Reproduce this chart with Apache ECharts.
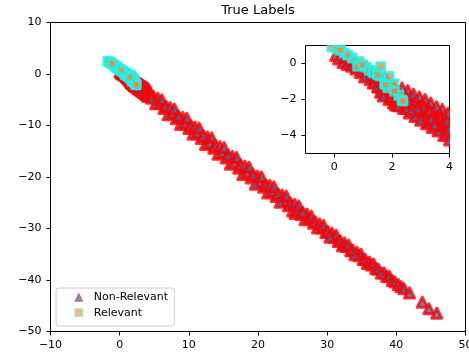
<!DOCTYPE html>
<html>
<head>
<meta charset="utf-8">
<script src="https://cdn.jsdelivr.net/npm/echarts/dist/echarts.min.js"></script>
<style>
  html, body { margin: 0; padding: 0; background: #fff; }
  #main { width: 469px; height: 358px; }
</style>
</head>
<body>
<div id="main"></div>
<script>
// ---------------- data ----------------
var nonRelevant = [
  // dense part near the origin (visible in the inset)
  [0.05,0.45],[0.15,0.25],[0.3,0.05],[0.35,0.35],[0.45,-0.05],[0.55,0.15],[0.6,-0.15],[0.7,0.0],
  [0.75,-0.3],[0.85,-0.15],[0.9,-0.5],[1.0,-0.35],[1.05,-0.75],[1.1,-0.2],[1.15,-0.6],[1.25,-0.9],
  [1.3,-0.5],[1.35,-1.1],[1.45,-0.8],[1.5,-1.3],[1.55,-0.6],[1.6,-1.6],[1.65,-1.0],[1.7,-1.8],
  [1.75,-1.4],[1.8,-0.9],[1.85,-1.7],[1.9,-2.0],[1.95,-1.2],[2.0,-1.6],[2.05,-2.2],[2.1,-1.4],
  [2.15,-1.9],[2.2,-2.35],[2.25,-1.6],[2.3,-2.1],[2.35,-1.35],[2.4,-2.5],[2.45,-1.8],[2.5,-2.2],
  [2.55,-1.5],[2.6,-2.75],[2.65,-1.9],[2.7,-2.3],[2.75,-1.7],[2.8,-2.95],[2.85,-2.1],[2.9,-2.5],
  [2.95,-1.85],[3.0,-3.15],[3.05,-2.3],[3.1,-2.7],[3.15,-2.0],[3.2,-3.35],[3.25,-2.5],[3.3,-2.9],
  [3.35,-2.2],[3.4,-3.55],[3.45,-2.7],[3.5,-3.1],[3.55,-2.4],[3.6,-3.75],[3.65,-2.9],[3.7,-3.3],
  [3.75,-2.55],[3.8,-4.0],[3.85,-3.1],[3.9,-3.5],[3.95,-2.75],[4.0,-4.25],[4.05,-3.3],[4.1,-2.9],
  [4.15,-3.7],[4.2,-4.3],
  [1.22,-0.65],[1.42,-1.05],[1.58,-1.3],[1.68,-1.55],[1.78,-1.7],[1.98,-1.9],[2.12,-2.3],[2.22,-2.0],
  [2.32,-2.35],[2.42,-2.05],[2.52,-2.5],[2.58,-2.1],[2.68,-2.6],[2.72,-2.05],[2.78,-2.45],[2.88,-2.85],
  [2.92,-2.25],[2.98,-2.65],[3.08,-3.0],[3.12,-2.45],[3.18,-2.85],[3.28,-3.25],[3.32,-2.65],[3.38,-3.05],
  [3.48,-3.4],[3.52,-2.8],[3.58,-3.3],[3.68,-3.6],[3.72,-3.0],[3.78,-3.45],[3.88,-3.85],[3.92,-3.25],
  [3.98,-3.65],[4.08,-4.05],[4.12,-3.5],
  // main band
  [4.3,-3.3],[4.6,-4.7],[4.9,-4.4],[5.2,-5.8],[5.5,-4.7],[5.8,-5.7],[6.1,-5.0],[6.4,-6.7],
  [6.7,-6.3],[7.0,-7.9],[7.3,-6.5],[7.6,-7.6],[7.9,-6.8],[8.2,-8.7],[8.5,-8.2],[8.8,-9.8],
  [9.1,-8.4],[9.4,-9.5],[9.7,-8.6],[10.0,-10.6],[10.3,-10.1],[10.6,-11.7],[10.9,-10.3],[11.2,-11.5],
  [11.5,-10.5],[11.8,-12.5],[12.1,-12.0],[12.4,-13.7],[12.7,-12.2],[13.0,-13.4],[13.3,-12.4],[13.6,-14.4],
  [13.9,-13.9],[14.2,-15.6],[14.5,-14.1],[14.8,-15.3],[15.1,-14.3],[15.4,-16.3],[15.7,-15.8],[16.0,-17.5],
  [16.3,-16.0],[16.6,-17.2],[16.9,-16.2],[17.2,-18.3],[17.5,-17.7],[17.8,-19.5],[18.1,-17.9],[18.4,-19.1],
  [18.7,-18.1],[19.0,-20.2],[19.3,-19.6],[19.6,-21.4],[19.9,-19.8],[20.2,-21.0],[20.5,-20.0],[20.8,-22.0],
  [21.1,-21.5],[21.4,-23.1],[21.7,-21.6],[22.0,-22.8],[22.3,-21.9],[22.6,-23.8],[22.9,-23.3],[23.2,-24.9],
  [23.5,-23.5],[23.8,-24.6],[24.1,-23.7],[24.4,-25.6],[24.7,-25.1],[25.0,-26.6],[25.3,-25.3],[25.35,-27.1],
  [25.6,-26.4],[25.9,-25.6],[26.2,-27.3],[26.5,-26.9],[26.8,-28.3],[27.1,-27.2],[27.4,-28.1],[27.7,-27.6],
  [28.0,-29.0],[28.3,-28.7],[28.6,-29.9],[28.9,-29.1],[29.2,-29.9],[29.5,-29.4],[29.8,-30.8],[30.1,-30.6],
  [30.4,-31.7],[30.7,-30.9],[31.0,-31.7],[31.3,-31.3],[31.6,-32.5],[31.9,-32.4],[32.2,-33.4],[32.5,-32.8],
  [32.8,-33.5],[33.1,-33.2],[33.4,-34.3],[33.7,-34.2],[34.0,-35.1],[34.3,-34.6],[34.6,-35.3],[34.9,-35.0],
  [35.2,-36.0],[35.5,-36.0],[35.8,-36.8],[36.1,-36.5],[36.4,-37.1],[36.7,-36.9],[37.0,-37.8],[37.4,-37.9],
  [37.8,-38.7],[38.2,-38.6],[38.6,-39.3],[39.0,-39.3],[39.4,-40.1],[39.8,-40.4],[40.3,-40.9],[40.7,-41.3],
  [41.1,-41.7],[41.9,-42.5],[43.75,-44.3],[44.7,-45.6],[45.85,-46.45]
];

// order matters: squares listed later cover the earlier ones
var relevant = [
  [-1.7,2.5],[-1.3,2.15],[-0.8,1.7],[-0.45,1.2],[-0.08,0.92],[0.35,0.58],[0.62,0.3],[0.86,0.11],
  [1.1,-0.2],[1.32,-0.42],[1.61,-0.18],[1.75,-1.1],[1.86,-1.35],[2.07,-1.13],[2.24,-1.77],
  [-1.5,2.35],[-0.55,1.45],[-0.25,1.1],[0.1,0.8],[0.46,0.47],[0.81,-0.15],[0.98,-0.07],[1.21,-0.37],
  [1.36,-0.52],[1.61,-0.7],[1.78,-1.16],[1.9,-0.72],[2.09,-1.53],[2.35,-2.03],
  [-1.02,2.0],[0.22,0.73],[1.5,-0.62],[2.38,-2.08]
];

var mainXTicks = [-10, 50, 10];   // min, max, step
var mainYTicks = [-50, 10, 10];
var insetXLim = [-1, 4];
var insetYLim = [-5, 1];
var insetXTicks = [0, 2, 4];
var insetYTicks = [-4, -2, 0];

// ---------------- styles ----------------
var font = 'DejaVu Sans';
var triFill = '#3b6ba8', red = '#ff0000';
var sqFill = '#ec8a3a', cyan = '#19f5ef';

function fmt(v) {
    return String(v).replace('-', '\u2212');
}

// the points were not plotted in x order: draw them in a mixed order
function gcd(a, b) { return b ? gcd(b, a % b) : a; }
function mixed(arr) {
    var n = arr.length, step = 37;
    while (gcd(step, n) !== 1) step++;
    var out = [];
    for (var k = 0; k < n; k++) out.push(arr[(k * step) % n]);
    return out;
}

function axisCommon(z) {
    return {
        type: 'value',
        z: z,
        axisLine: { show: false, onZero: false },
        axisTick: { show: true, inside: false, length: 4, lineStyle: { color: '#000', width: 1 } },
        splitLine: { show: false },
        axisLabel: { fontSize: 11, color: '#000', fontFamily: font, formatter: fmt }
    };
}

var chartDom = document.getElementById('main');
var chart = echarts.init(chartDom, null, { renderer: 'canvas' });

var xMain = axisCommon(0);
xMain.gridIndex = 0;
xMain.min = mainXTicks[0]; xMain.max = mainXTicks[1]; xMain.interval = mainXTicks[2];
xMain.axisLabel.margin = 8;

var yMain = axisCommon(0);
yMain.gridIndex = 0;
yMain.min = mainYTicks[0]; yMain.max = mainYTicks[1]; yMain.interval = mainYTicks[2];
yMain.axisLabel.margin = 9;

var xInset = axisCommon(11);
xInset.gridIndex = 1;
xInset.min = insetXLim[0]; xInset.max = insetXLim[1];
xInset.axisTick.customValues = insetXTicks;
xInset.axisLabel.customValues = insetXTicks;
xInset.axisLabel.margin = 8;

var yInset = axisCommon(11);
yInset.gridIndex = 1;
yInset.min = insetYLim[0]; yInset.max = insetYLim[1];
yInset.axisTick.customValues = insetYTicks;
yInset.axisLabel.customValues = insetYTicks;
yInset.axisLabel.margin = 9;

var triData = mixed(nonRelevant);

function layers(gi, z0) {
    return [
        { name: 'Non-Relevant', type: 'scatter', xAxisIndex: gi, yAxisIndex: gi, z: z0,
          symbol: 'triangle', symbolSize: 10,
          itemStyle: { color: triFill, borderColor: red, borderWidth: 3, borderJoin: 'round' },
          data: triData },
        { name: 'Relevant', type: 'scatter', xAxisIndex: gi, yAxisIndex: gi, z: z0 + 1,
          symbol: 'rect', symbolSize: 8,
          itemStyle: { color: sqFill, borderColor: cyan, borderWidth: 3, borderJoin: 'round' },
          data: relevant }
    ];
}

var option = {
    animation: false,
    backgroundColor: '#fff',
    textStyle: { fontFamily: font },
    title: {
        text: 'True Labels',
        left: 258,
        top: 4,
        padding: 0,
        textAlign: 'center',
        textStyle: { fontSize: 13, fontWeight: 'normal', color: '#000', fontFamily: font }
    },
    legend: {
        orient: 'vertical',
        left: 56,
        top: 288,
        itemWidth: 8,
        itemHeight: 8,
        itemGap: 2.4,
        padding: [2.8, 6.4, 6.8, 18.3],
        backgroundColor: 'rgba(255,255,255,0.8)',
        borderColor: '#cccccc',
        borderWidth: 1,
        borderRadius: 3,
        textStyle: { fontSize: 11, lineHeight: 13, color: '#000', fontFamily: font, padding: [0, 0, 0, 6] },
        data: [
            { name: 'Non-Relevant', icon: 'triangle',
              itemStyle: { color: '#5a64a6', borderColor: '#ee5566', borderWidth: 1 } },
            { name: 'Relevant', icon: 'rect',
              itemStyle: { color: '#f5a55d', borderColor: '#80f5f0', borderWidth: 1 } }
        ]
    },
    grid: [
        { left: 50.5, top: 22.5, width: 415, height: 309, show: true, outerBoundsMode: 'none',
          backgroundColor: '#fff', borderColor: '#000', borderWidth: 1 },
        // 放大的小图
        { left: 305.5, top: 45.5, width: 144, height: 108, show: true, z: 5, outerBoundsMode: 'none',
          backgroundColor: '#fff', borderColor: '#000', borderWidth: 1 }
    ],
    xAxis: [xMain, xInset],
    yAxis: [yMain, yInset],
    // white strips hide marker overflow past the inset's top/right edges
    graphic: {
        elements: [
            { type: 'rect', silent: true, z: 10,
              shape: { x: 300, y: 36, width: 160, height: 9 }, style: { fill: '#fff' } },
            { type: 'rect', silent: true, z: 10,
              shape: { x: 450, y: 36, width: 10, height: 125 }, style: { fill: '#fff' } }
        ]
    },
    series: layers(0, 1).concat(layers(1, 6))
};

chart.setOption(option);
</script>
</body>
</html>
